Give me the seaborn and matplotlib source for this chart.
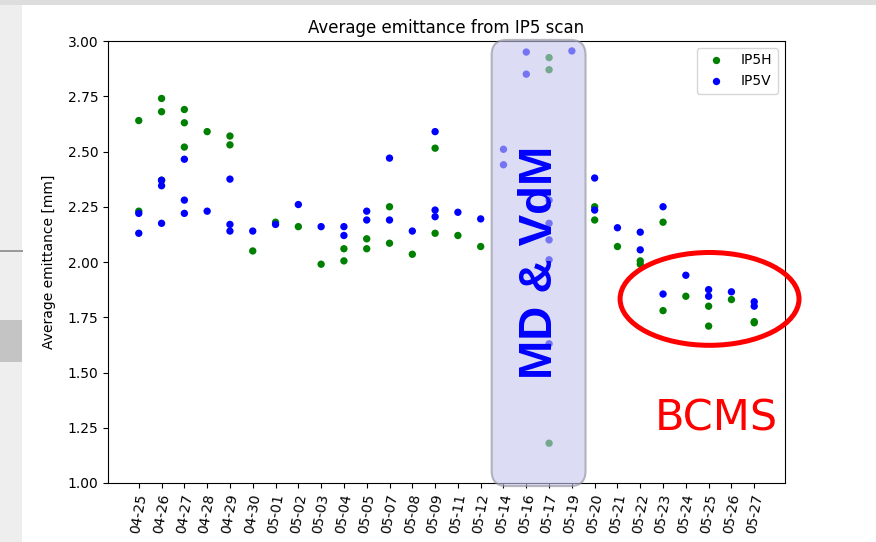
import matplotlib
matplotlib.use("Agg")
import matplotlib.pyplot as plt
from matplotlib.patches import Ellipse, FancyBboxPatch, Rectangle
import pandas as pd
import seaborn as sns

# Scan dates shown on the x axis
dates = ["04-25", "04-26", "04-27", "04-28", "04-29", "04-30", "05-01", "05-02",
         "05-03", "05-04", "05-05", "05-07", "05-08", "05-09", "05-11", "05-12",
         "05-14", "05-16", "05-17", "05-19", "05-20", "05-21", "05-22", "05-23",
         "05-24", "05-25", "05-26", "05-27"]

# Horizontal plane emittance per scan
h_dates = ["04-25", "04-25", "04-26", "04-26", "04-26", "04-27", "04-27", "04-27",
           "04-28", "04-29", "04-29", "04-30", "05-01", "05-02", "05-03", "05-04",
           "05-04", "05-05", "05-05", "05-07", "05-07", "05-08", "05-09", "05-09",
           "05-11", "05-12", "05-17", "05-17", "05-17", "05-20", "05-20", "05-21",
           "05-22", "05-22", "05-23", "05-23", "05-24", "05-25", "05-25", "05-26",
           "05-27", "05-27"]
h_vals = [2.64, 2.23, 2.74, 2.68, 2.37, 2.69, 2.63, 2.52,
          2.59, 2.57, 2.53, 2.05, 2.18, 2.16, 1.99, 2.06,
          2.005, 2.105, 2.06, 2.25, 2.085, 2.035, 2.515, 2.13,
          2.12, 2.07, 2.925, 2.87, 1.18, 2.25, 2.19, 2.07,
          2.005, 1.99, 2.18, 1.78, 1.845, 1.80, 1.71, 1.83,
          1.73, 1.725]

# Vertical plane emittance per scan
v_dates = ["04-25", "04-25", "04-26", "04-26", "04-26", "04-27", "04-27", "04-27",
           "04-28", "04-29", "04-29", "04-29", "04-30", "05-01", "05-02", "05-03",
           "05-04", "05-04", "05-05", "05-05", "05-07", "05-07", "05-08", "05-09",
           "05-09", "05-09", "05-11", "05-12", "05-14", "05-14", "05-16", "05-16",
           "05-17", "05-17", "05-17", "05-17", "05-17", "05-19", "05-20", "05-20",
           "05-21", "05-22", "05-22", "05-23", "05-23", "05-24", "05-25", "05-25",
           "05-26", "05-27", "05-27"]
v_vals = [2.22, 2.13, 2.37, 2.345, 2.175, 2.465, 2.28, 2.22,
          2.23, 2.375, 2.17, 2.14, 2.14, 2.17, 2.26, 2.16,
          2.16, 2.12, 2.23, 2.19, 2.47, 2.19, 2.14, 2.59,
          2.235, 2.205, 2.225, 2.195, 2.51, 2.44, 2.95, 2.85,
          2.28, 2.175, 2.10, 2.01, 1.63, 2.955, 2.38, 2.235,
          2.155, 2.135, 2.055, 2.25, 1.855, 1.94, 1.875, 1.845,
          1.865, 1.82, 1.80]

df = pd.concat([
    pd.DataFrame({"date": h_dates, "emit": h_vals, "plane": "IP5H"}),
    pd.DataFrame({"date": v_dates, "emit": v_vals, "plane": "IP5V"}),
], ignore_index=True)
df["pos"] = df["date"].map({d: i for i, d in enumerate(dates)})

fig = plt.figure(figsize=(8.76, 5.42), dpi=100)
fig.patch.set_facecolor("white")

# Window chrome around the plot area
fig.patches.append(Rectangle((0, 0), 22 / 876, 1, transform=fig.transFigure,
                             facecolor="#eeeeee", edgecolor="none", zorder=-5))
fig.patches.append(Rectangle((0, 1 - 5 / 542), 1, 5 / 542, transform=fig.transFigure,
                             facecolor="#dddddd", edgecolor="none", zorder=-5))
fig.patches.append(Rectangle((0, 1 - 252 / 542), 23 / 876, 1.5 / 542, transform=fig.transFigure,
                             facecolor="#9a9a9a", edgecolor="none", zorder=-4))
fig.patches.append(Rectangle((0, 1 - 362 / 542), 22 / 876, 42 / 542, transform=fig.transFigure,
                             facecolor="#c4c4c4", edgecolor="none", zorder=-4))

ax = fig.add_axes([108 / 876, 1 - 483 / 542, 677 / 876, 442 / 542])

sns.scatterplot(data=df, x="pos", y="emit", hue="plane",
                palette={"IP5H": "green", "IP5V": "blue"},
                s=28, linewidth=0, ax=ax, zorder=3)

ax.set_xlim(-1.35, len(dates) - 1 + 1.35)
ax.set_ylim(1.0, 3.0)
ax.set_xticks(range(len(dates)))
ax.set_xticklabels(dates, rotation=80)
ax.set_yticks([1.0, 1.25, 1.5, 1.75, 2.0, 2.25, 2.5, 2.75, 3.0])
ax.set_xlabel("")
ax.set_ylabel("Average emittance [mm]", labelpad=8)
ax.set_title("Average emittance from IP5 scan", fontsize=12)

handles, labels = ax.get_legend_handles_labels()
ax.legend(handles, labels, loc="upper right", title=None)

# Machine development / van der Meer period
box = FancyBboxPatch((15.48, 0.986), 4.12, 2.019,
                     boxstyle="round,pad=0,rounding_size=0.66",
                     mutation_aspect=0.103,
                     facecolor=(197 / 255, 197 / 255, 238 / 255), alpha=0.6,
                     edgecolor="#8c8c96", linewidth=1.5, zorder=5, clip_on=False)
ax.add_patch(box)
ax.text(17.59, 2.0, "MD & VdM", rotation=90, ha="center", va="center",
        color="blue", fontsize=34, fontweight="bold",
        family="Liberation Sans", zorder=6)

# BCMS period highlight
ax.add_patch(Ellipse((25.04, 1.833), 7.85, 0.42, fill=False, edgecolor="red",
                     linewidth=3.6, zorder=6, clip_on=False))
ax.text(25.35, 1.294, "BCMS", color="red", fontsize=31, ha="center", va="center",
        zorder=6)

fig.savefig("out.png", dpi=100)
